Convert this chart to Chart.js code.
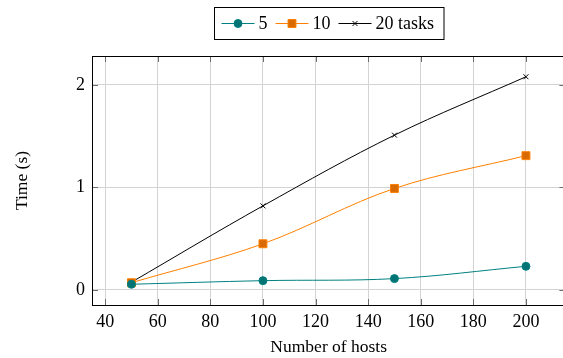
<!DOCTYPE html>
<html>
<head>
<meta charset="utf-8">
<script src="https://cdn.jsdelivr.net/npm/chart.js@4.4.1/dist/chart.umd.min.js"></script>
<style>
  html, body { margin:0; padding:0; background:#fff; overflow:hidden; }
  #wrap { width:563px; height:358px; overflow:hidden; }
</style>
</head>
<body>
<div id="wrap"><canvas id="hostsChart" width="572" height="358"></canvas></div>
<script>
// data
const hosts   = [50, 100, 150, 200];
const time5   = [0.055, 0.09, 0.11, 0.23];
const time10  = [0.07, 0.45, 0.99, 1.31];
const time20  = [0.075, 0.82, 1.51, 2.08];
const seriesLabels = ["5", "10", "20 tasks"];
const xTicks = [40, 60, 80, 100, 120, 140, 160, 180, 200];
const yTicks = [0, 1, 2];

const FONT = "'Liberation Serif', 'Times New Roman', serif";
Chart.defaults.font.family = FONT;
Chart.defaults.font.size = 18;
Chart.defaults.color = "#000";

// pgfplots style: enlarge limits by 10% of the data range
function enlarged(vals) {
  const lo = Math.min(...vals), hi = Math.max(...vals);
  const pad = (hi - lo) * 0.1;
  return [lo - pad, hi + pad];
}
const [xMin, xMax] = enlarged(hosts);
const [yMin, yMax] = enlarged([...time5, ...time10, ...time20]);

const styles = [
  { line: "#008080", fill: "#007474", point: "circle", r: 4 },
  { line: "#ff8000", fill: "#d86a00", point: "rect", r: 5.6 },
  { line: "#000000", fill: "#000000", point: "crossRot", r: 3.5 }
];

function toPts(ys) { return hosts.map((x, i) => ({ x: x, y: ys[i] })); }

function mark(ctx, st, x, y) {
  ctx.save();
  ctx.lineWidth = 1;
  ctx.strokeStyle = st.line;
  ctx.fillStyle = st.fill;
  ctx.beginPath();
  if (st.point === "circle") {
    ctx.arc(x, y, st.r, 0, Math.PI * 2);
    ctx.fill(); ctx.stroke();
  } else if (st.point === "rect") {
    const s = st.r * Math.SQRT1_2;
    ctx.rect(x - s, y - s, 2 * s, 2 * s);
    ctx.fill(); ctx.stroke();
  } else {
    const s = st.r * Math.SQRT1_2;
    ctx.moveTo(x - s, y - s); ctx.lineTo(x + s, y + s);
    ctx.moveTo(x - s, y + s); ctx.lineTo(x + s, y - s);
    ctx.stroke();
  }
  ctx.restore();
}

// frame around plot + inward tick marks
const framePlugin = {
  id: "frame",
  beforeDatasetsDraw(chart) {
    const { ctx, chartArea: a, scales: { x, y } } = chart;
    ctx.save();
    ctx.strokeStyle = "#6e6e6e";
    ctx.lineWidth = 1;
    ctx.beginPath();
    xTicks.forEach(v => {
      const px = Math.round(x.getPixelForValue(v)) + 0.5;
      ctx.moveTo(px, a.bottom); ctx.lineTo(px, a.bottom - 6);
      ctx.moveTo(px, a.top); ctx.lineTo(px, a.top + 6);
    });
    yTicks.forEach(v => {
      const py = Math.round(y.getPixelForValue(v)) + 0.5;
      ctx.moveTo(a.left, py); ctx.lineTo(a.left + 6, py);
      ctx.moveTo(a.right, py); ctx.lineTo(a.right - 6, py);
    });
    ctx.stroke();
    ctx.strokeStyle = "#000";
    ctx.strokeRect(Math.round(a.left) + 0.5, Math.round(a.top) + 0.5,
                   Math.round(a.right - a.left), Math.round(a.bottom - a.top));
    ctx.restore();
  }
};

// boxed legend: line-marker-line then label, all on one row
const legendPlugin = {
  id: "boxLegend",
  afterDraw(chart) {
    const { ctx, chartArea: a } = chart;
    const lineLen = 33, gapText = 4, gapItem = 8, padL = 7, padR = 10;
    ctx.save();
    ctx.font = "18px " + FONT;
    let w = padL + padR;
    seriesLabels.forEach((t, i) => {
      w += lineLen + gapText + ctx.measureText(t).width + (i < seriesLabels.length - 1 ? gapItem : 0);
    });
    const h = 32, top = 7.5;
    const left = Math.round((a.left + a.right) / 2 - w / 2) + 0.5;
    ctx.fillStyle = "#fff";
    ctx.fillRect(left, top, w, h);
    ctx.strokeStyle = "#000";
    ctx.lineWidth = 1;
    ctx.strokeRect(left, top, w, h);
    const cy = top + h / 2;
    let cx = left + padL;
    seriesLabels.forEach((t, i) => {
      const st = styles[i];
      ctx.strokeStyle = st.line;
      ctx.beginPath();
      ctx.moveTo(cx, cy); ctx.lineTo(cx + lineLen, cy);
      ctx.stroke();
      mark(ctx, st, cx + lineLen / 2, cy);
      cx += lineLen + gapText;
      ctx.fillStyle = "#000";
      ctx.textBaseline = "middle";
      ctx.textAlign = "left";
      ctx.fillText(t, cx, cy + 1);
      cx += ctx.measureText(t).width + gapItem;
    });
    ctx.restore();
  }
};

const ctx = document.getElementById("hostsChart").getContext("2d");
new Chart(ctx, {
  type: "line",
  data: {
    datasets: [time5, time10, time20].map((ys, i) => ({
      label: seriesLabels[i],
      data: toPts(ys),
      borderColor: styles[i].line,
      backgroundColor: styles[i].fill,
      pointBorderColor: styles[i].line,
      pointBackgroundColor: styles[i].fill,
      pointStyle: styles[i].point,
      pointRadius: styles[i].r,
      pointBorderWidth: 1,
      borderWidth: 1,
      tension: 0.35,
      fill: false
    }))
  },
  options: {
    responsive: false,
    animation: false,
    layout: { padding: { top: 56, right: 5.5, left: 0, bottom: 0 } },
    plugins: { legend: { display: false }, tooltip: { enabled: false } },
    scales: {
      x: {
        type: "linear",
        min: xMin, max: xMax,
        afterBuildTicks: s => { s.ticks = xTicks.map(v => ({ value: v })); },
        afterFit: s => { s.height = 53; },
        grid: { color: "#d3d3d3", drawTicks: false },
        border: { display: false },
        ticks: { padding: 6, color: "#000" },
        title: { display: true, text: "Number of hosts", font: { size: 17.5 }, padding: { top: 0, bottom: 0 } }
      },
      y: {
        type: "linear",
        min: yMin, max: yMax,
        afterBuildTicks: s => { s.ticks = yTicks.map(v => ({ value: v })); },
        afterFit: s => { s.width = 92; },
        grid: { color: "#d3d3d3", drawTicks: false },
        border: { display: false },
        ticks: { padding: 7, color: "#000" },
        title: { display: true, text: "Time (s)", font: { size: 17.5 }, padding: { top: 12, bottom: 0 } }
      }
    }
  },
  plugins: [framePlugin, legendPlugin]
});
</script>
</body>
</html>
